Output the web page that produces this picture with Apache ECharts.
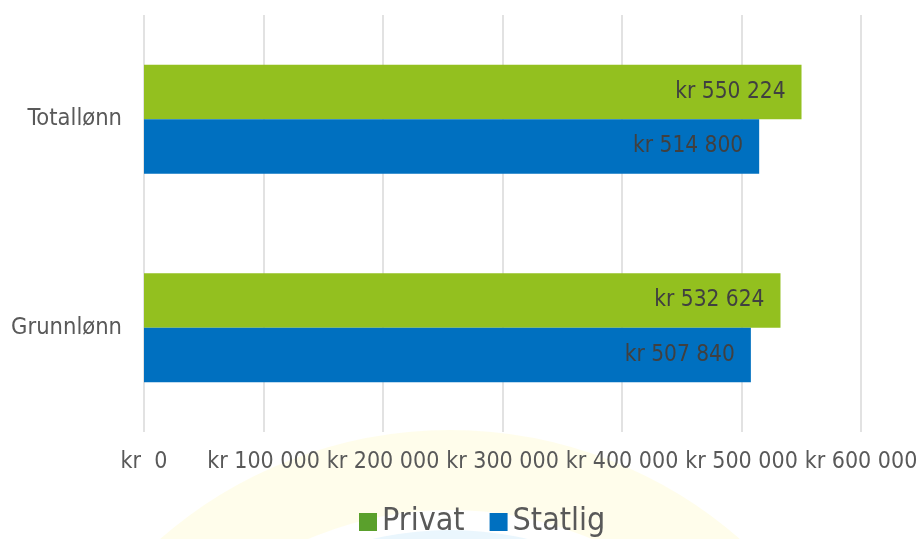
<!DOCTYPE html>
<html>
<head>
<meta charset="utf-8">
<script src="https://cdn.jsdelivr.net/npm/echarts@6/dist/echarts.min.js"></script>
<style>
html,body{margin:0;padding:0;background:#fff;}
#chart{width:922px;height:539px;}
</style>
</head>
<body>
<div id="chart"></div>
<script>
const categories = ['Grunnlønn', 'Totallønn'];
const seriesNames = ['Privat', 'Statlig'];
const privat = [532624, 550224];
const statlig = [507840, 514800];
const xTicks = [0, 100000, 200000, 300000, 400000, 500000, 600000];

const FONT = '"DejaVu Sans Condensed", "DejaVu Sans", sans-serif';
function fmt(v) {
  if (v === 0) return 'kr  0';
  return 'kr ' + String(Math.round(v)).replace(/\B(?=(\d{3})+(?!\d))/g, ' ');
}

const chart = echarts.init(document.getElementById('chart'), null, {renderer: 'canvas'});
chart.setOption({
  backgroundColor: '#ffffff',
  animation: false,
  graphic: [
    {type: 'circle', silent: true, z: -10, shape: {cx: 450, cy: 870, r: 400},
     style: {fill: 'none', stroke: 'rgba(255,240,130,0.16)', lineWidth: 80}},
    {type: 'circle', silent: true, z: -10, shape: {cx: 450, cy: 870, r: 340},
     style: {fill: 'rgba(195,228,250,0.35)'}}
  ],
  grid: {left: 144, right: 61, top: 15, bottom: 107, containLabel: false},
  legend: {
    top: 501,
    left: 354,
    itemWidth: 18, itemHeight: 18, itemGap: 25,
    icon: 'rect',
    textStyle: {fontFamily: FONT, fontSize: 32, color: '#595959'},
    data: [
      {name: 'Privat', itemStyle: {color: '#5aa02c'}},
      {name: 'Statlig', itemStyle: {color: '#0070c0'}}
    ]
  },
  xAxis: {
    type: 'value',
    min: xTicks[0], max: xTicks[xTicks.length - 1], interval: 100000,
    axisLine: {show: false}, axisTick: {show: false},
    splitLine: {show: true, lineStyle: {color: '#d9d9d9', width: 1.5}},
    axisLabel: {fontFamily: FONT, fontSize: 23, color: '#595959', margin: 19, formatter: fmt}
  },
  yAxis: {
    type: 'category',
    data: categories,
    axisLine: {show: false}, axisTick: {show: false},
    axisLabel: {fontFamily: FONT, fontSize: 23.5, color: '#595959', margin: 22}
  },
  series: [
    {name: seriesNames[0], type: 'bar', data: privat, barGap: '0%', barCategoryGap: '47.7%',
     itemStyle: {color: '#93c01f'},
     label: {show: true, position: 'insideRight', distance: 16, formatter: p => fmt(p.value),
             fontFamily: FONT, fontSize: 22.5, color: '#404040'}},
    {name: seriesNames[1], type: 'bar', data: statlig, barGap: '0%', barCategoryGap: '47.7%',
     itemStyle: {color: '#0070c0'},
     label: {show: true, position: 'insideRight', distance: 16, formatter: p => fmt(p.value),
             fontFamily: FONT, fontSize: 22.5, color: '#404040'}}
  ]
});
</script>
</body>
</html>
